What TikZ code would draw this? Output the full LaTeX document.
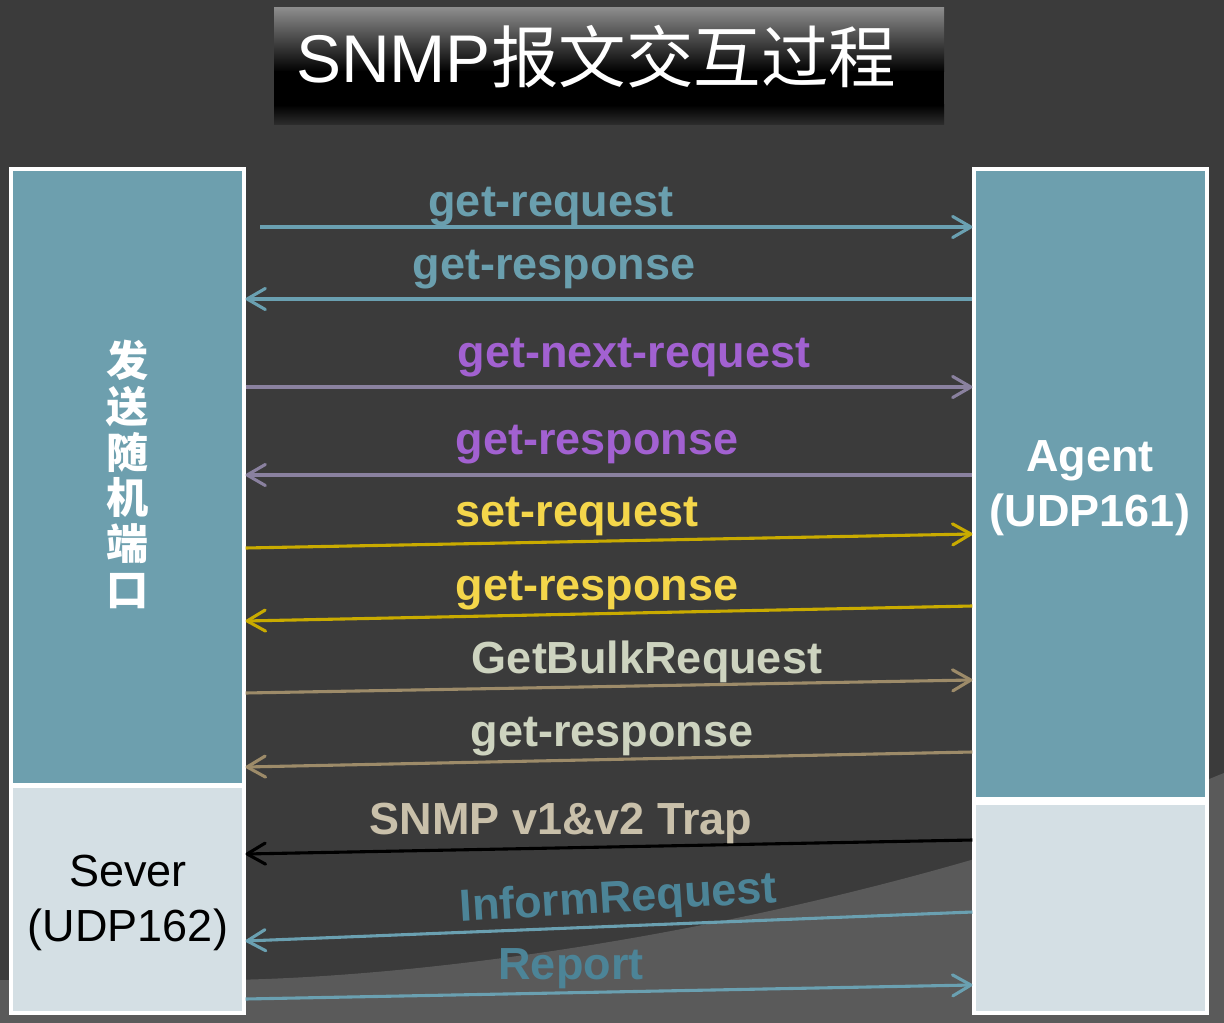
\documentclass[tikz,border=0pt]{standalone}
\usepackage{fontspec}
\setmainfont{Liberation Sans}
\newfontfamily\cjk{Noto Sans CJK SC}
\usetikzlibrary{arrows.meta,fit}

\definecolor{bgdark}{HTML}{3B3B3B}
\definecolor{bglight}{HTML}{5A5A5A}
\definecolor{titletop}{HTML}{8C8C8C}
\definecolor{titlebot}{HTML}{2E2E2E}
\definecolor{boxteal}{HTML}{6D9FAE}
\definecolor{boxpale}{HTML}{D4DFE4}
\definecolor{tealline}{HTML}{6AA0B1}
\definecolor{teallbl}{HTML}{6A9FAE}
\definecolor{purpleline}{HTML}{8A819F}
\definecolor{purplelbl}{HTML}{A261D1}
\definecolor{yellowline}{HTML}{C9AB00}
\definecolor{yellowlbl}{HTML}{F4D64A}
\definecolor{tanline}{HTML}{9D8B69}
\definecolor{tanlbl}{HTML}{CDD3BF}
\definecolor{traplbl}{HTML}{C9C0AA}
\definecolor{informlbl}{HTML}{4C8497}

\tikzset{
  box/.style={draw=white, line width=2.2pt, inner sep=0pt},
  boxtext/.style={anchor=north, inner sep=0pt, align=center},
  msg/.style={line width=2.2pt, -{Straight Barb[length=13pt,width=15pt,round]}},
  lbl/.style={font=\bfseries\fontsize{32}{38}\selectfont, anchor=base, inner sep=0pt}
}

\begin{document}
\begin{tikzpicture}[x=0.025cm,y=-0.025cm]
\fill[bgdark] (0,0) rectangle (1224,1023);
\fill[bglight] (0,980) -- (230,980) .. controls (500,975) and (900,905) .. (1224,773) -- (1224,1023) -- (0,1023) -- cycle;
\useasboundingbox (0,0) rectangle (1224,1023);

\shade[top color=titletop, bottom color=black] (274,8) rectangle (944,72);
\fill[black] (274,71) rectangle (944,106);
\shade[top color=black, bottom color=titlebot] (274,105) rectangle (944,125);
\node[anchor=base, inner sep=0pt, text=white, font=\fontsize{48}{50}\selectfont] (title) at (596,83) {SNMP{\cjk 报文交互过程}};

\node[box, fill=boxteal, fit={(11,169) (244,785)}] (sendport) {};
\node[box, fill=boxpale, fit={(11,786) (244,1013)}] (sever) {};
\node[box, fill=boxteal, fit={(974,169) (1207,799)}] (agent) {};
\node[box, fill=boxpale, fit={(974,803) (1207,1013)}] (agentlow) {};

\node[boxtext, text=white, font=\cjk\bfseries\fontsize{30}{32.5}\selectfont] (porttext) at (128,340) {发\\送\\随\\机\\端\\口};
\node[boxtext, text=black, font=\fontsize{32}{39}\selectfont] (severtext) at (128,855) {Sever\\(UDP162)};
\node[boxtext, text=white, font=\bfseries\fontsize{32}{39}\selectfont] (agenttext) at (1090,440) {Agent\\(UDP161)};

\coordinate (reqstart) at (260,227);
\draw[msg, tealline] (reqstart) -- (agent.west |- reqstart);
\draw[msg, tealline] (agent.west |- 0,299) -- (sendport.east |- 0,299);
\draw[msg, purpleline] (sendport.east |- 0,387) -- (agent.west |- 0,387);
\draw[msg, purpleline] (agent.west |- 0,475) -- (sendport.east |- 0,475);
\draw[msg, yellowline] (sendport.east |- 0,548) -- (agent.west |- 0,534);
\draw[msg, yellowline] (agent.west |- 0,606) -- (sendport.east |- 0,621);
\draw[msg, tanline] (sendport.east |- 0,693) -- (agent.west |- 0,680);
\draw[msg, tanline] (agent.west |- 0,752) -- (sendport.east |- 0,767);
\draw[msg, black] (agentlow.west |- 0,840) -- (sever.east |- 0,854);
\draw[msg, tealline] (agentlow.west |- 0,912) -- (sever.east |- 0,941);
\draw[msg, tealline] (sever.east |- 0,999) -- (agentlow.west |- 0,985);

\node[lbl, text=teallbl] (getreq) at (551,217) {get-request};
\node[lbl, text=teallbl] (getresp) at (554,280) {get-response};
\node[lbl, text=purplelbl] (nextreq) at (634,368) {get-next-request};
\node[lbl, text=purplelbl] (nextresp) at (597,455) {get-response};
\node[lbl, text=yellowlbl] (setreq) at (577,527) {set-request};
\node[lbl, text=yellowlbl] (setresp) at (597,600) {get-response};
\node[lbl, text=tanlbl] (bulkreq) at (647,673) {GetBulkRequest};
\node[lbl, text=tanlbl] (bulkresp) at (612,746) {get-response};
\node[lbl, text=traplbl] (trap) at (561,834) {SNMP v1\&v2 Trap};
\node[lbl, text=informlbl, rotate=3.5] (inform) at (619,912) {InformRequest};
\node[lbl, text=informlbl] (report) at (571,979) {Report};
\end{tikzpicture}
\end{document}
